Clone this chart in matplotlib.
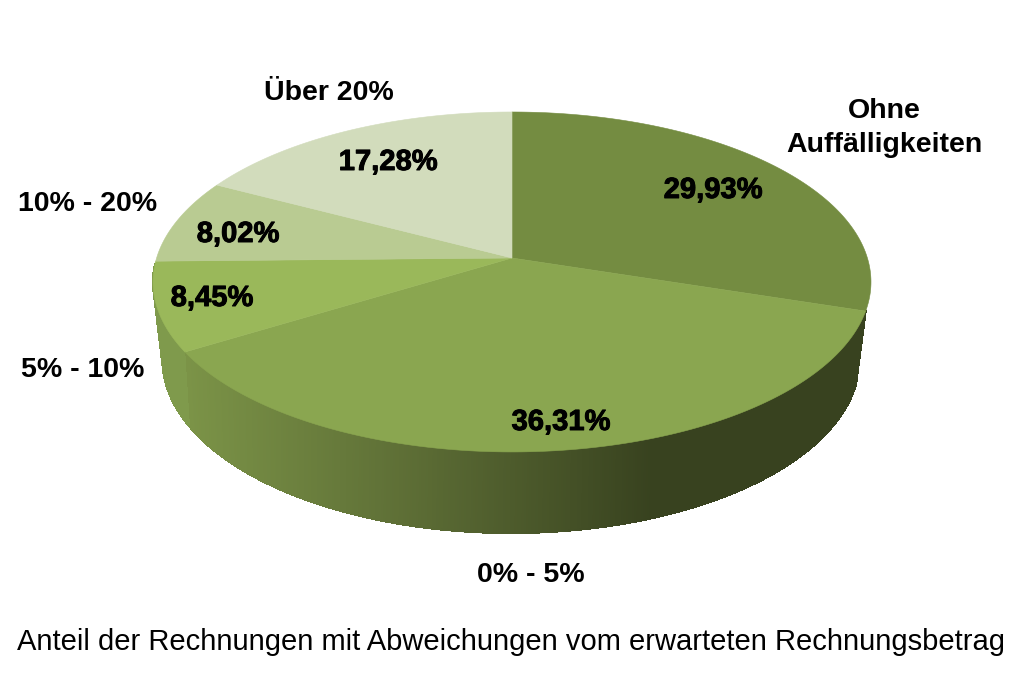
import numpy as np
import matplotlib
matplotlib.use('Agg')
import matplotlib.pyplot as plt
import matplotlib.patheffects as pe
from matplotlib.collections import LineCollection, PolyCollection
from matplotlib.colors import to_rgb

plt.rcParams['font.family'] = ['Liberation Sans', 'DejaVu Sans']

# Daten, im Uhrzeigersinn ab 12 Uhr
categories = ['Ohne\nAuffälligkeiten', '0% - 5%', '5% - 10%', '10% - 20%', 'Über 20%']
shares = [29.93, 36.31, 8.45, 8.02, 17.28]
top_colors = ['#748c41', '#8aa650', '#9ab85a', '#b9cb92', '#d2dcbc']
caption = 'Anteil der Rechnungen mit Abweichungen vom erwarteten Rechnungsbetrag'

# Positionen der Beschriftungen in Pixeln
cat_pos = [(884, 128), (531, 575), (83, 370), (88, 204), (329, 93)]
val_pos = [(713, 190), (561, 422), (212, 298), (238, 234), (388, 162)]

# Perspektive: (x0, y0, a, b, k) fuer Ober- und Unterkante
TOP_RIM = (512, 258, 355.4, 166.6, 0.141)
LOW_RIM = (511, 330, 343.5, 168.5, 0.17)

# Farbverlauf der Seitenwand entlang x
wall_x = [190, 400, 650, 1030]
wall_rgb = np.array([to_rgb(c) for c in ['#7b9347', '#5e6f36', '#38421f', '#38421f']])
side_wall_color = '#7f9a4c'


def project(deg, rim, r=1.0):
    """Winkel im Uhrzeigersinn ab 12 Uhr auf Bildkoordinaten abbilden"""
    x0, y0, a, b, k = rim
    t = np.radians(deg)
    u, v = r * np.sin(t), r * np.cos(t)
    w = 1 + k * v
    return x0 + a * u / w, y0 - b * v / w


fig = plt.figure(figsize=(10.3, 6.75), dpi=100)
ax = fig.add_axes([0, 0, 1, 1])
ax.set_xlim(0, 1030)
ax.set_ylim(675, 0)
ax.axis('off')

edges = np.concatenate([[0], np.cumsum(shares)]) / np.sum(shares) * 360

# Seitenwand: nur der sichtbare Teil, schmale Streifen fuer den Verlauf
wall_deg = np.linspace(edges[1], 268, 500)
xt, yt = project(wall_deg, TOP_RIM)
xl, yl = project(wall_deg, LOW_RIM)
quads = []
segments = []
colors = []
for i in range(len(wall_deg) - 1):
    quads.append([(xt[i], yt[i]), (xt[i + 1], yt[i + 1]), (xl[i + 1], yl[i + 1]), (xl[i], yl[i])])
    segments.append([(xl[i], yl[i]), (xl[i + 1], yl[i + 1])])
    xm = (xl[i] + xl[i + 1]) / 2
    if wall_deg[i] >= edges[2]:
        colors.append(to_rgb(side_wall_color))
    else:
        colors.append([np.interp(xm, wall_x, wall_rgb[:, c]) for c in range(3)])
# ohne Antialiasing keine Streifen zwischen den Vierecken
ax.add_collection(PolyCollection(quads, facecolors=colors, edgecolors=colors,
                                 linewidths=0.8, antialiaseds=False))
# glatte Aussenkante
ax.add_collection(LineCollection(segments, colors=colors, linewidths=1.0, capstyle='round'))
ax.plot([xt[0], xl[0]], [yt[0], yl[0]], color=colors[0], linewidth=1.0)
ax.plot([xt[-1], xl[-1]], [yt[-1], yl[-1]], color=colors[-1], linewidth=1.0)

# Oberseite der Torte
for start, end, col in zip(edges[:-1], edges[1:], top_colors):
    deg = np.linspace(start, end, 200)
    x, y = project(deg, TOP_RIM)
    cx, cy = project(0.0, TOP_RIM, r=0.0)
    ax.fill(np.r_[cx, x], np.r_[cy, y], color=col, linewidth=0.4, zorder=3)

for name, pos in zip(categories, cat_pos):
    ax.text(pos[0], pos[1], name, ha='center', va='center', fontsize=20.5,
            fontweight='bold', color='black', linespacing=1.42, zorder=5)

for val, pos in zip(shares, val_pos):
    label = f'{val:.2f}'.replace('.', ',') + '%'
    txt = ax.text(pos[0], pos[1], label, ha='center', va='center', fontsize=21,
                  fontweight='bold', color='black', zorder=5)
    txt.set_path_effects([pe.withStroke(linewidth=0.7, foreground='black')])

ax.text(511, 642, caption, ha='center', va='center', fontsize=21, color='black')

fig.savefig('out.png', dpi=100)
